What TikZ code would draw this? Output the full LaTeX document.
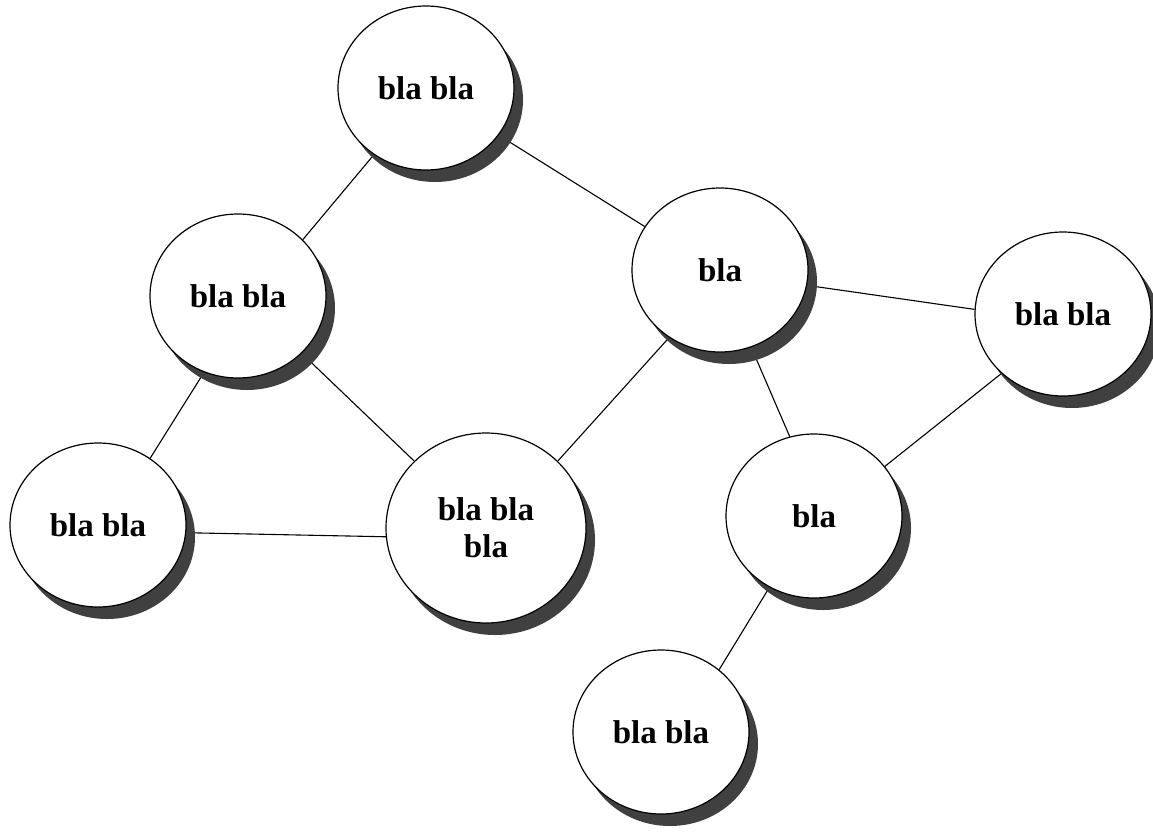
\documentclass[tikz,border=0pt]{standalone}
\usepackage{fontspec}
\setmainfont{Liberation Serif}
\usetikzlibrary{shapes.geometric,shadows,backgrounds}
\begin{document}
\begin{tikzpicture}[x=1pt,y=-1pt,
  bubble/.style={ellipse,draw=black,line width=1.2pt,fill=white,inner sep=0pt,
    minimum width=176pt,minimum height=164pt,align=center,
    font=\fontsize{33}{37}\selectfont\bfseries,
    drop shadow={shadow xshift=9pt,shadow yshift=-12pt,fill=black!75,opacity=1}},
  bigbubble/.style={bubble,minimum width=200pt,minimum height=190pt},
  link/.style={draw=black,line width=1.1pt}]
\useasboundingbox (0,0) rectangle (1153,836);
\node[bubble] (top) at (426,88) {bla bla};
\node[bubble] (lu) at (238,296) {bla bla};
\node[bubble] (lb) at (98,525) {bla bla};
\node[bigbubble] (ce) at (486,528) {bla bla\\bla};
\node[bubble] (bm) at (720,270) {bla};
\node[bubble] (fr) at (1063,314) {bla bla};
\node[bubble] (bl) at (814,516) {bla};
\node[bubble] (bo) at (661,732) {bla bla};
\begin{scope}[on background layer]
\draw[link] (top.232) -- (lu.41);
\draw[link] (top.-33) -- (bm.150);
\draw[link] (lu.246) -- (lb.52);
\draw[link] (lu.-42) -- (ce.137);
\draw[link] (lb.-5) -- (ce.185);
\draw[link] (bm.233) -- (ce.43);
\draw[link] (bm.-10) -- (fr.177);
\draw[link] (bm.-68) -- (bl.107);
\draw[link] (fr.224) -- (bl.35);
\draw[link] (bl.238) -- (bo.47);
\end{scope}
\end{tikzpicture}
\end{document}
